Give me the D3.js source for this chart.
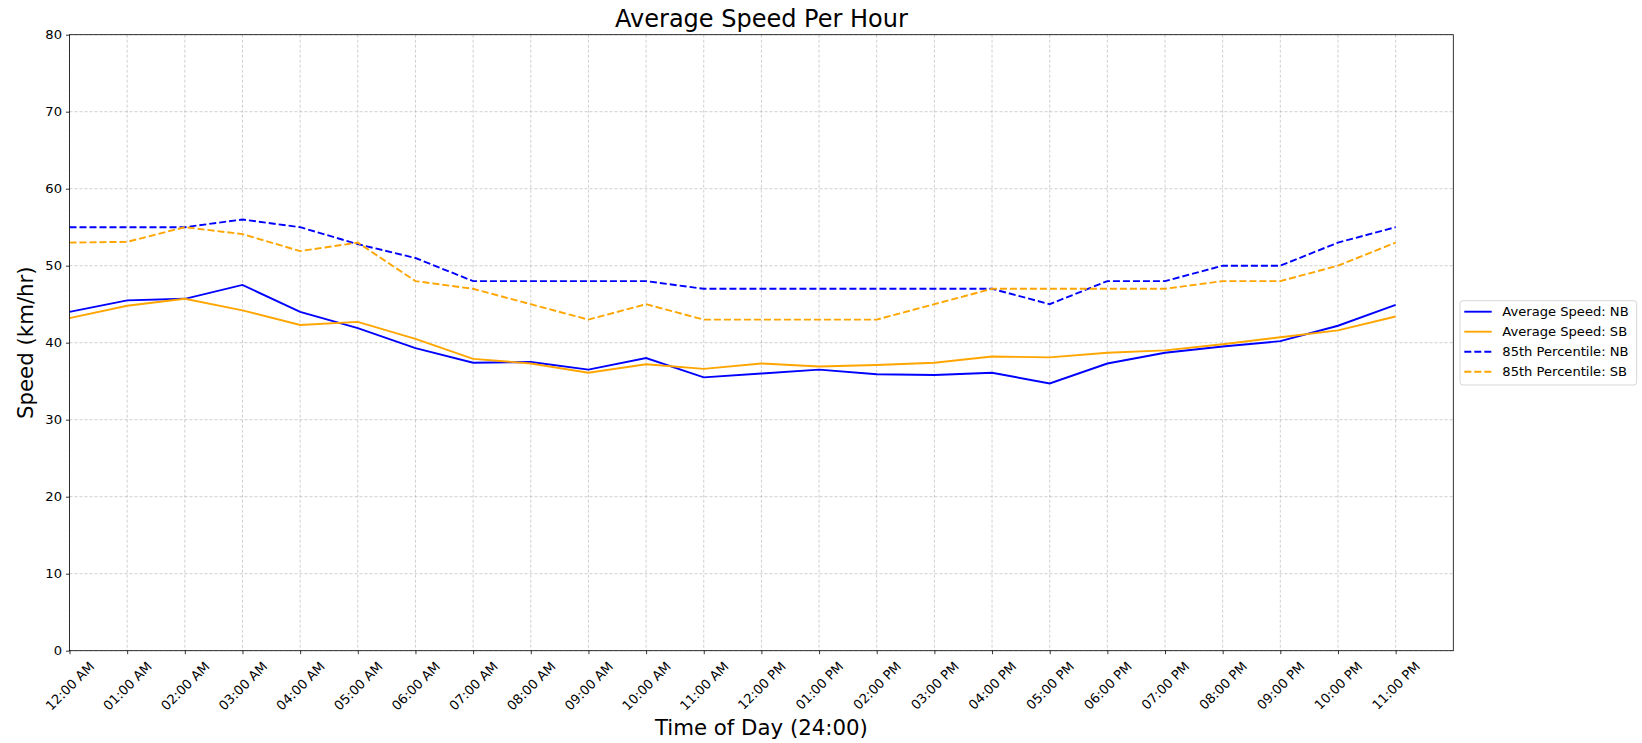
<!DOCTYPE html>
<html>
<head>
<meta charset="utf-8">
<script src="https://cdn.jsdelivr.net/npm/d3@7"></script>
<style>
  html, body { margin: 0; padding: 0; background: #fff; }
  svg { display: block; font-family: "DejaVu Sans", sans-serif; }
</style>
</head>
<body>
<svg id="chart" width="1642" height="743"></svg>
<script>
// ---- data ----
const hours = ["12:00 AM","01:00 AM","02:00 AM","03:00 AM","04:00 AM","05:00 AM","06:00 AM","07:00 AM",
  "08:00 AM","09:00 AM","10:00 AM","11:00 AM","12:00 PM","01:00 PM","02:00 PM","03:00 PM",
  "04:00 PM","05:00 PM","06:00 PM","07:00 PM","08:00 PM","09:00 PM","10:00 PM","11:00 PM"];
const avgNB = [44.0,45.5,45.7,47.5,44.0,41.9,39.3,37.4,37.5,36.5,38.0,35.5,36.0,36.5,35.9,35.8,36.1,34.7,37.3,38.7,39.5,40.2,42.2,44.9];
const avgSB = [43.2,44.8,45.7,44.2,42.3,42.7,40.5,37.9,37.3,36.1,37.2,36.6,37.3,36.9,37.1,37.4,38.2,38.1,38.7,39.0,39.8,40.7,41.6,43.4];
const p85NB = [55,55,55,56,55,52.8,51,48,48,48,48,47,47,47,47,47,47,45,48,48,50,50,53,55];
const p85SB = [53,53.1,55,54.1,51.9,53,48,47,45,43,45,43,43,43,43,45,47,47,47,47,48,48,50,53];
const yTicks = [0,10,20,30,40,50,60,70,80];
const seriesNames = ["Average Speed: NB","Average Speed: SB","85th Percentile: NB","85th Percentile: SB"];
const seriesColors = ["#0000ff","#ffa500","#0000ff","#ffa500"];
const seriesDashed = [false,false,true,true];
const titleText = "Average Speed Per Hour";
const xLabelText = "Time of Day (24:00)";
const yLabelText = "Speed (km/hr)";

const seriesValues = [avgNB, avgSB, p85NB, p85SB];

// ---- layout ----
const L = 69.5, R = 1453.3, T = 34.7, B = 650.7;
const svg = d3.select("#chart");

const x = d3.scaleLinear().domain([0, 24]).range([L, R]);
const y = d3.scaleLinear().domain([0, 80]).range([B, T]);

// grid
const grid = svg.append("g");
grid.selectAll("line.gx").data(hours.map((d,i)=>i)).enter().append("line")
  .attr("x1", d=>x(d)).attr("x2", d=>x(d)).attr("y1", T).attr("y2", B)
  .attr("stroke", "#a8a8a8").attr("stroke-opacity", 0.7).attr("stroke-width", 0.8)
  .attr("stroke-dasharray", "3,2");
grid.selectAll("line.gy").data(yTicks).enter().append("line")
  .attr("x1", L).attr("x2", R).attr("y1", d=>y(d)).attr("y2", d=>y(d))
  .attr("stroke", "#a8a8a8").attr("stroke-opacity", 0.7).attr("stroke-width", 0.8)
  .attr("stroke-dasharray", "3,2");

// lines
const line = d3.line().x((d,i)=>x(i)).y(d=>y(d));
seriesValues.forEach((vals, k) => {
  svg.append("path").datum(vals)
    .attr("d", line)
    .attr("fill", "none")
    .attr("stroke", seriesColors[k])
    .attr("stroke-width", 1.9)
    .attr("stroke-dasharray", seriesDashed[k] ? "7,3" : null);
});

// axes
const yAxis = d3.axisLeft(y).tickValues(yTicks).tickSize(3.5).tickPadding(4);
const yg = svg.append("g").attr("transform", `translate(${L},0)`).call(yAxis);
yg.select(".domain").remove();
yg.selectAll("text").attr("font-size", "13.1px").attr("fill", "#000").attr("font-family", "DejaVu Sans");
yg.selectAll("line").attr("stroke", "#000").attr("stroke-width", 0.8);

const xAxis = d3.axisBottom(x).tickValues(hours.map((d,i)=>i)).tickFormat(i=>hours[i]).tickSize(3.5);
const xg = svg.append("g").attr("transform", `translate(0,${B})`).call(xAxis);
xg.select(".domain").remove();
xg.selectAll("line").attr("stroke", "#000").attr("stroke-width", 0.8);
xg.selectAll("text")
  .attr("font-size", "13.1px").attr("fill", "#000").attr("font-family", "DejaVu Sans")
  .attr("text-anchor", "middle").attr("dy", null).attr("y", 0)
  .attr("dominant-baseline", "central")
  .each(function() {
    const w = this.getComputedTextLength();
    const h = 13.1 * 0.95;
    const cy = 9 + (w + h) * Math.SQRT1_2 / 2;
    d3.select(this).attr("transform", `translate(0,${cy}) rotate(-45)`);
  });

// frame
svg.append("rect").attr("x", L).attr("y", T).attr("width", R - L).attr("height", B - T)
  .attr("fill", "none").attr("stroke", "#000").attr("stroke-width", 0.8);

// title & labels
svg.append("text").attr("x", (L+R)/2).attr("y", 27).attr("text-anchor", "middle")
  .attr("font-size", "24px").attr("fill", "#000").text(titleText);
svg.append("text").attr("x", (L+R)/2).attr("y", 735).attr("text-anchor", "middle")
  .attr("font-size", "21.3px").attr("fill", "#000").text(xLabelText);
svg.append("text").attr("transform", `translate(33.3,${(T+B)/2}) rotate(-90)`).attr("text-anchor", "middle")
  .attr("font-size", "21.3px").attr("fill", "#000").text(yLabelText);

// legend
const lg = svg.append("g");
lg.append("rect").attr("x", 1460).attr("y", 300.7).attr("width", 176.7).attr("height", 84.3)
  .attr("rx", 3).attr("fill", "#fff").attr("fill-opacity", 0.8)
  .attr("stroke", "#cccccc").attr("stroke-width", 0.8);
seriesNames.forEach((name, k) => {
  const cy = 311.7 + 20 * k;
  lg.append("line").attr("x1", 1464.3).attr("x2", 1491.7).attr("y1", cy).attr("y2", cy)
    .attr("stroke", seriesColors[k]).attr("stroke-width", 1.9)
    .attr("stroke-dasharray", seriesDashed[k] ? "7,3" : null);
  lg.append("text").attr("x", 1502.3).attr("y", cy).attr("dominant-baseline", "central")
    .attr("font-size", "13.1px").attr("fill", "#000").text(name);
});
</script>
</body>
</html>
